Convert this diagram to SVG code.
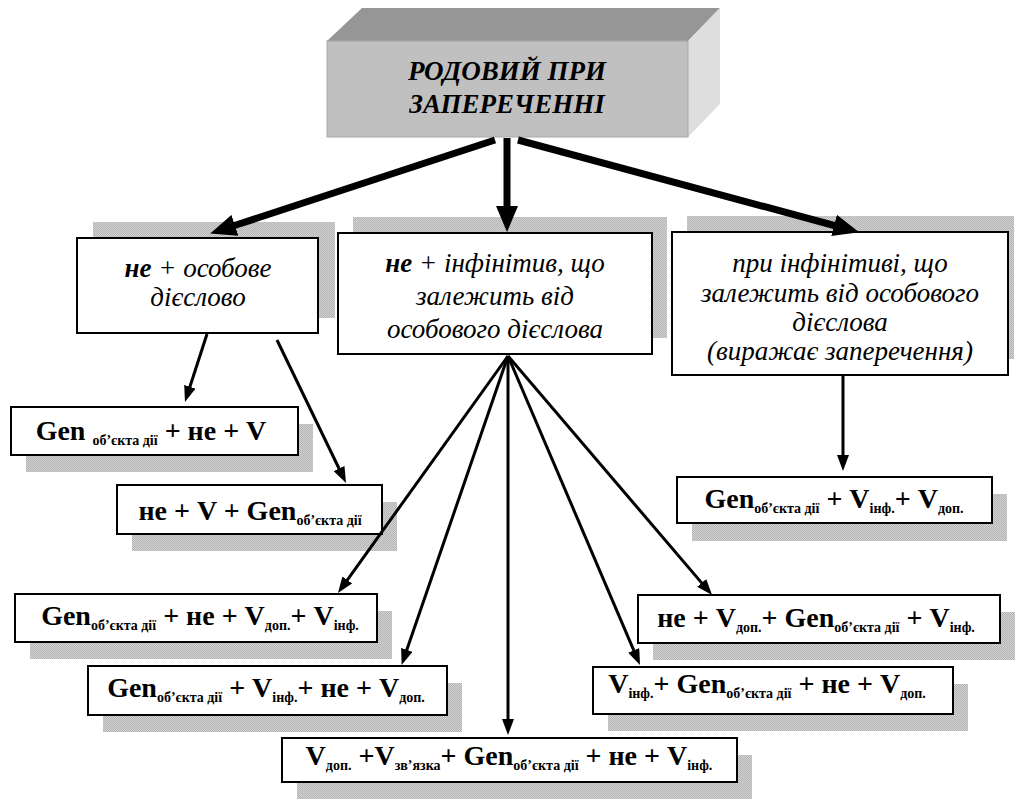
<svg xmlns="http://www.w3.org/2000/svg" width="1018" height="799" viewBox="0 0 1018 799">
<defs>
<pattern id="dots" width="2" height="2" patternUnits="userSpaceOnUse">
<rect width="2" height="2" fill="#d2d2d2"/>
<rect width="1" height="1" fill="#b4b4b4"/>
<rect x="1" y="1" width="1" height="1" fill="#b4b4b4"/>
</pattern>
<marker id="headBig" markerUnits="userSpaceOnUse" viewBox="0 0 26 22" markerWidth="26" markerHeight="22" refX="2" refY="11" orient="auto">
<path d="M0,0 L26,11 L0,22 z" fill="#000"/>
</marker>
<marker id="head" markerUnits="userSpaceOnUse" viewBox="0 0 16 12" markerWidth="16" markerHeight="12" refX="1" refY="6" orient="auto">
<path d="M0,0 L16,6 L0,12 z" fill="#000"/>
</marker>
</defs>
<style>
text{font-family:'Liberation Serif','Times New Roman',Tinos,Times,'Nimbus Roman','DejaVu Serif',serif;}
.shadow{fill:url(#dots);}
.box{fill:#fff;stroke:#000;stroke-width:2;}
.it{font-style:italic;font-size:27px;fill:#000;text-anchor:middle;}
.fm{font-weight:bold;font-size:28px;fill:#000;text-anchor:middle;}
.sub{font-size:14px;}
.big{fill:none;stroke:#000;stroke-width:7;marker-end:url(#headBig);}
.thin{fill:none;stroke:#000;stroke-width:3;marker-end:url(#head);}
</style>
<rect width="1018" height="799" fill="#fff"/>

<g id="root">
<polygon points="327,41 362,8 720,8 688,41" fill="#969696"/>
<polygon points="688,41 720,8 720,104 688,137" fill="#dedede"/>
<rect x="327" y="41" width="361" height="96" fill="#c0c0c0" stroke="#a8a8a8" stroke-width="1"/>
<text class="it" font-weight="bold" font-size="30" x="507" y="80">РОДОВИЙ ПРИ</text>
<text class="it" font-weight="bold" font-size="30" x="507" y="113">ЗАПЕРЕЧЕННІ</text>
</g>

<g id="n-left">
<rect class="shadow" x="93" y="222" width="242" height="96"/>
<rect class="box" x="77" y="238" width="241" height="95"/>
<text class="it" x="198" y="277"><tspan font-weight="bold">не</tspan> + особове</text>
<text class="it" x="198" y="306">дієслово</text>
</g>

<g id="n-mid">
<rect class="shadow" x="353" y="217" width="314" height="121"/>
<rect class="box" x="338" y="233" width="314" height="121"/>
<text class="it" x="495" y="272"><tspan font-weight="bold">не</tspan> + інфінітив, що</text>
<text class="it" x="495" y="305">залежить від</text>
<text class="it" x="495" y="338">особового дієслова</text>
</g>

<g id="n-right">
<rect class="shadow" x="687" y="216" width="327" height="143"/>
<rect class="box" x="672" y="232" width="336" height="143"/>
<text class="it" x="840" y="272">при інфінітиві, що</text>
<text class="it" x="840" y="302">залежить від особового</text>
<text class="it" x="840" y="331">дієслова</text>
<text class="it" x="840" y="360">(виражає заперечення)</text>
</g>

<g id="f1">
<rect class="shadow" x="26" y="424" width="287" height="48"/>
<rect class="box" x="11" y="407" width="287" height="48"/>
<text class="fm" x="151" y="440">Gen <tspan class="sub" dy="5">об’єкта дії</tspan><tspan dy="-5"> + не + V</tspan></text>
</g>

<g id="f2">
<rect class="shadow" x="132" y="502" width="265" height="49"/>
<rect class="box" x="117" y="485" width="265" height="49"/>
<text class="fm" x="250" y="520">не + V + Gen<tspan class="sub" dy="5">об’єкта дії</tspan></text>
</g>

<g id="f3">
<rect class="shadow" x="692" y="494" width="315" height="47"/>
<rect class="box" x="677" y="477" width="315" height="46"/>
<text class="fm" x="834" y="508">Gen<tspan class="sub" dy="5">об’єкта дії</tspan><tspan dy="-5"> + V</tspan><tspan class="sub" dy="5">інф.</tspan><tspan dy="-5">+ V</tspan><tspan class="sub" dy="5">доп.</tspan></text>
</g>

<g id="f4">
<rect class="shadow" x="30" y="611" width="362" height="48"/>
<rect class="box" x="15" y="594" width="362" height="48"/>
<text class="fm" x="200" y="625">Gen<tspan class="sub" dy="5">об’єкта дії</tspan><tspan dy="-5"> + не + V</tspan><tspan class="sub" dy="5">доп.</tspan><tspan dy="-5">+ V</tspan><tspan class="sub" dy="5">інф.</tspan></text>
</g>

<g id="f5">
<rect class="shadow" x="103" y="683" width="359" height="49"/>
<rect class="box" x="88" y="666" width="359" height="49"/>
<text class="fm" x="266" y="697">Gen<tspan class="sub" dy="5">об’єкта дії</tspan><tspan dy="-5"> + V</tspan><tspan class="sub" dy="5">інф.</tspan><tspan dy="-5">+ не + V</tspan><tspan class="sub" dy="5">доп.</tspan></text>
</g>

<g id="f6">
<rect class="shadow" x="653" y="612" width="362" height="48"/>
<rect class="box" x="638" y="595" width="362" height="48"/>
<text class="fm" x="816" y="627">не + V<tspan class="sub" dy="5">доп.</tspan><tspan dy="-5">+ Gen</tspan><tspan class="sub" dy="5">об’єкта дії</tspan><tspan dy="-5"> + V</tspan><tspan class="sub" dy="5">інф.</tspan></text>
</g>

<g id="f7">
<rect class="shadow" x="608" y="684" width="360" height="47"/>
<rect class="box" x="593" y="667" width="360" height="47"/>
<text class="fm" x="767" y="693">V<tspan class="sub" dy="5">інф.</tspan><tspan dy="-5">+ Gen</tspan><tspan class="sub" dy="5">об’єкта дії</tspan><tspan dy="-5"> + не + V</tspan><tspan class="sub" dy="5">доп.</tspan></text>
</g>

<g id="f8">
<rect class="shadow" x="297" y="755" width="455" height="44"/>
<rect class="box" x="282" y="738" width="455" height="44"/>
<text class="fm" x="509" y="765">V<tspan class="sub" dy="5">доп.</tspan><tspan dy="-5"> +V</tspan><tspan class="sub" dy="5">зв’язка</tspan><tspan dy="-5">+ Gen</tspan><tspan class="sub" dy="5">об’єкта дії</tspan><tspan dy="-5"> + не + V</tspan><tspan class="sub" dy="5">інф.</tspan></text>
</g>

<g id="connectors">
<line class="big" x1="507" y1="138" x2="507" y2="208"/>
<line class="big" x1="495" y1="140" x2="233" y2="226"/>
<line class="big" x1="518" y1="140" x2="836" y2="226"/>
<line class="thin" x1="207" y1="334" x2="189.6" y2="387.7"/>
<line class="thin" x1="277" y1="340" x2="339.5" y2="469.5"/>
<line class="thin" x1="843" y1="376" x2="843" y2="456"/>
<line class="thin" x1="508" y1="356" x2="346.7" y2="580.8"/>
<line class="thin" x1="508" y1="356" x2="406.5" y2="650.8"/>
<line class="thin" x1="508" y1="356" x2="508" y2="720"/>
<line class="thin" x1="508" y1="356" x2="634.1" y2="651.2"/>
<line class="thin" x1="508" y1="356" x2="702.3" y2="583.6"/>
</g>
</svg>
